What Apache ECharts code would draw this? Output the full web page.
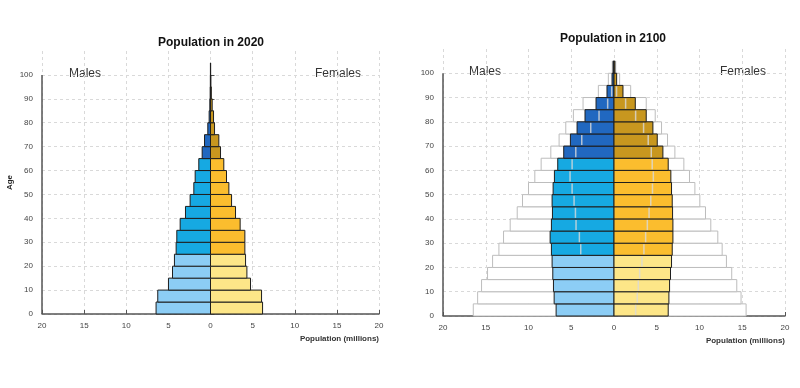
<!DOCTYPE html>
<html>
<head>
<meta charset="utf-8">
<script src="https://cdn.jsdelivr.net/npm/echarts@6/dist/echarts.min.js"></script>
<style>
html,body{margin:0;padding:0;background:#fff;}
#chart{width:800px;height:388px;position:relative;}
#edge{position:absolute;left:2px;top:0;width:1px;height:388px;background:#e6e6e6;}
</style>
</head>
<body>
<div id="edge"></div>
<div id="chart"></div>
<script>
// Age group starts (years)
const ages = [0,5,10,15,20,25,30,35,40,45,50,55,60,65,70,75,80,85,90,95,100];
const ageTicks = [0,10,20,30,40,50,60,70,80,90,100];
const popTicks = [-20,-15,-10,-5,0,5,10,15,20];

// 2020 population (millions)
const males2020   = [6.46,6.26,4.99,4.51,4.28,4.08,4.00,3.60,2.97,2.42,1.98,1.82,1.39,0.99,0.71,0.32,0.16,0.08,0.04,0.02,0.01];
const females2020 = [6.18,6.06,4.75,4.32,4.16,4.08,4.08,3.52,2.97,2.50,2.18,1.90,1.58,1.19,0.99,0.48,0.36,0.20,0.10,0.05,0.02];

// 2100 population (millions)
const males2100   = [6.77,7.00,7.08,7.16,7.24,7.32,7.47,7.32,7.20,7.24,7.12,6.97,6.58,5.88,5.10,4.32,3.39,2.10,0.82,0.23,0.10];
const females2100 = [6.34,6.42,6.50,6.61,6.73,6.81,6.89,6.89,6.85,6.81,6.73,6.65,6.34,5.72,5.06,4.55,3.77,2.49,1.05,0.31,0.10];
// 2100 outline (white) bars
const malesOutline2100   = [16.46,15.95,15.49,14.79,14.20,13.46,12.92,12.14,11.32,10.70,10.00,9.26,8.52,7.39,6.42,5.64,4.75,3.62,1.83,0.66,0.20];
const femalesOutline2100 = [15.45,14.86,14.36,13.77,13.15,12.65,12.14,11.32,10.70,10.04,9.46,8.83,8.17,7.12,6.26,5.56,4.82,3.77,1.95,0.66,0.20];
// 2100 inner marker lines
const malesMarker2100   = [null,null,null,null,null,3.89,4.05,4.44,4.51,4.67,4.90,5.14,4.90,4.47,3.77,2.72,1.75,0.74,0.27,null,null];
const femalesMarker2100 = [2.53,2.72,2.84,3.00,3.27,3.50,3.70,3.90,4.10,4.30,4.50,4.60,4.47,4.36,4.00,3.46,2.53,1.36,0.30,null,null];

const FONT = "'Liberation Sans', Arial, sans-serif";
const malePalette = ['#8ccdf5', '#16a9e2', '#2168c0'];
const femalePalette = ['#fde688', '#fbbd2e', '#c8971f'];

function toData(vals, sign) {
  return ages.map((a, i) => [vals[i] == null ? null : sign * vals[i], a]);
}

function barRender(palette, stroke, lw) {
  return function (params, api) {
    const v = api.value(0), a = api.value(1);
    if (v == null || isNaN(v)) return null;
    const p0 = api.coord([0, a]);
    const p1 = api.coord([v, a + 5]);
    const fill = palette ? (a < 25 ? palette[0] : (a < 65 ? palette[1] : palette[2])) : '#ffffff';
    return {
      type: 'rect',
      shape: { x: Math.min(p0[0], p1[0]), y: p1[1], width: Math.abs(p1[0] - p0[0]), height: p0[1] - p1[1] },
      style: { fill: fill, stroke: stroke, lineWidth: lw }
    };
  };
}

function markerRender(params, api) {
  const v = api.value(0), a = api.value(1);
  if (v == null || isNaN(v)) return null;
  const p0 = api.coord([v, a]);
  const p1 = api.coord([v, a + 5]);
  return {
    type: 'line',
    shape: { x1: p0[0], y1: p0[1] - 1, x2: p1[0], y2: p1[1] + 1 },
    style: { stroke: 'rgba(218,218,218,0.8)', lineWidth: 1.5 }
  };
}

// vertical age axis line (from age 0 to 100 at the left edge of the population axis)
function ageAxisLineSeries(gi) {
  return {
    type: 'line', xAxisIndex: gi, yAxisIndex: gi, z: 6, silent: true,
    symbol: 'none', lineStyle: { color: '#555', width: 1.5 },
    data: [[popTicks[0], ageTicks[0]], [popTicks[0], ageTicks[ageTicks.length - 1]]]
  };
}

function xAxisCfg(gi) {
  return {
    type: 'value', gridIndex: gi, min: -20, max: 20, interval: 5,
    axisLine: { show: true, onZero: false, lineStyle: { color: '#555', width: 1.5 } },
    axisTick: { show: true, inside: true, length: 4, lineStyle: { color: '#555' } },
    axisLabel: { formatter: v => String(Math.abs(v)), fontSize: 8, color: '#444', margin: 8, fontFamily: FONT },
    splitLine: { show: true, lineStyle: { type: [3, 3], color: '#d9d9d9', width: 1 } }
  };
}

function yAxisCfg(gi, withName) {
  const cfg = {
    type: 'value', gridIndex: gi, min: 0, max: 110, interval: 10,
    axisLine: { show: false },
    axisTick: { show: true, inside: true, length: 4, customValues: ageTicks, lineStyle: { color: '#555' } },
    axisLabel: { customValues: ageTicks, formatter: v => (v > 100 ? '' : String(v)), fontSize: 8, color: '#444', margin: 9, fontFamily: FONT },
    splitLine: { show: true, lineStyle: { type: [3, 3], color: '#d9d9d9', width: 1 } }
  };
  if (withName) {
    Object.assign(cfg, {
      name: 'Age', nameLocation: 'middle', nameRotate: 90, nameGap: 28,
      nameTextStyle: { fontSize: 8, fontWeight: 'bold', color: '#222', fontFamily: FONT }
    });
  }
  return cfg;
}

const chart = echarts.init(document.getElementById('chart'), null, { renderer: 'canvas' });

const option = {
  backgroundColor: '#ffffff',
  animation: false,
  grid: [
    { left: 42, right: 421, top: 51, bottom: 74 },
    { left: 443, right: 15, top: 49, bottom: 72 }
  ],
  xAxis: [xAxisCfg(0), xAxisCfg(1)],
  yAxis: [yAxisCfg(0, true), yAxisCfg(1, false)],
  series: [
    // 2020
    { type: 'custom', xAxisIndex: 0, yAxisIndex: 0, z: 3, renderItem: barRender(malePalette, '#1e1e1e', 1), data: toData(males2020, -1) },
    { type: 'custom', xAxisIndex: 0, yAxisIndex: 0, z: 3, renderItem: barRender(femalePalette, '#1e1e1e', 1), data: toData(females2020, 1) },
    ageAxisLineSeries(0),
    // 2100 outline
    { type: 'custom', xAxisIndex: 1, yAxisIndex: 1, z: 2, renderItem: barRender(null, '#bdbdbd', 1), data: toData(malesOutline2100, -1) },
    { type: 'custom', xAxisIndex: 1, yAxisIndex: 1, z: 2, renderItem: barRender(null, '#bdbdbd', 1), data: toData(femalesOutline2100, 1) },
    // 2100 colored
    { type: 'custom', xAxisIndex: 1, yAxisIndex: 1, z: 3, renderItem: barRender(malePalette, '#1e1e1e', 1), data: toData(males2100, -1) },
    { type: 'custom', xAxisIndex: 1, yAxisIndex: 1, z: 3, renderItem: barRender(femalePalette, '#1e1e1e', 1), data: toData(females2100, 1) },
    // 2100 marker lines
    { type: 'custom', xAxisIndex: 1, yAxisIndex: 1, z: 4, renderItem: markerRender, data: toData(malesMarker2100, -1) },
    { type: 'custom', xAxisIndex: 1, yAxisIndex: 1, z: 4, renderItem: markerRender, data: toData(femalesMarker2100, 1) },
    ageAxisLineSeries(1)
  ],
  graphic: [
    { type: 'text', x: 211, y: 43, style: { text: 'Population in 2020', font: 'bold 12px ' + FONT, fill: '#111', align: 'center', verticalAlign: 'middle' } },
    { type: 'text', x: 613, y: 39, style: { text: 'Population in 2100', font: 'bold 12px ' + FONT, fill: '#111', align: 'center', verticalAlign: 'middle' } },
    { type: 'text', x: 69, y: 74, style: { text: 'Males', font: '12px ' + FONT, fill: '#333', align: 'left', verticalAlign: 'middle' } },
    { type: 'text', x: 361, y: 74, style: { text: 'Females', font: '12px ' + FONT, fill: '#333', align: 'right', verticalAlign: 'middle' } },
    { type: 'text', x: 469, y: 72, style: { text: 'Males', font: '12px ' + FONT, fill: '#333', align: 'left', verticalAlign: 'middle' } },
    { type: 'text', x: 766, y: 72, style: { text: 'Females', font: '12px ' + FONT, fill: '#333', align: 'right', verticalAlign: 'middle' } },
    { type: 'text', x: 379, y: 339, style: { text: 'Population (millions)', font: 'bold 8px ' + FONT, fill: '#333', align: 'right', verticalAlign: 'middle' } },
    { type: 'text', x: 785, y: 341, style: { text: 'Population (millions)', font: 'bold 8px ' + FONT, fill: '#333', align: 'right', verticalAlign: 'middle' } }
  ]
};

chart.setOption(option);
</script>
</body>
</html>
